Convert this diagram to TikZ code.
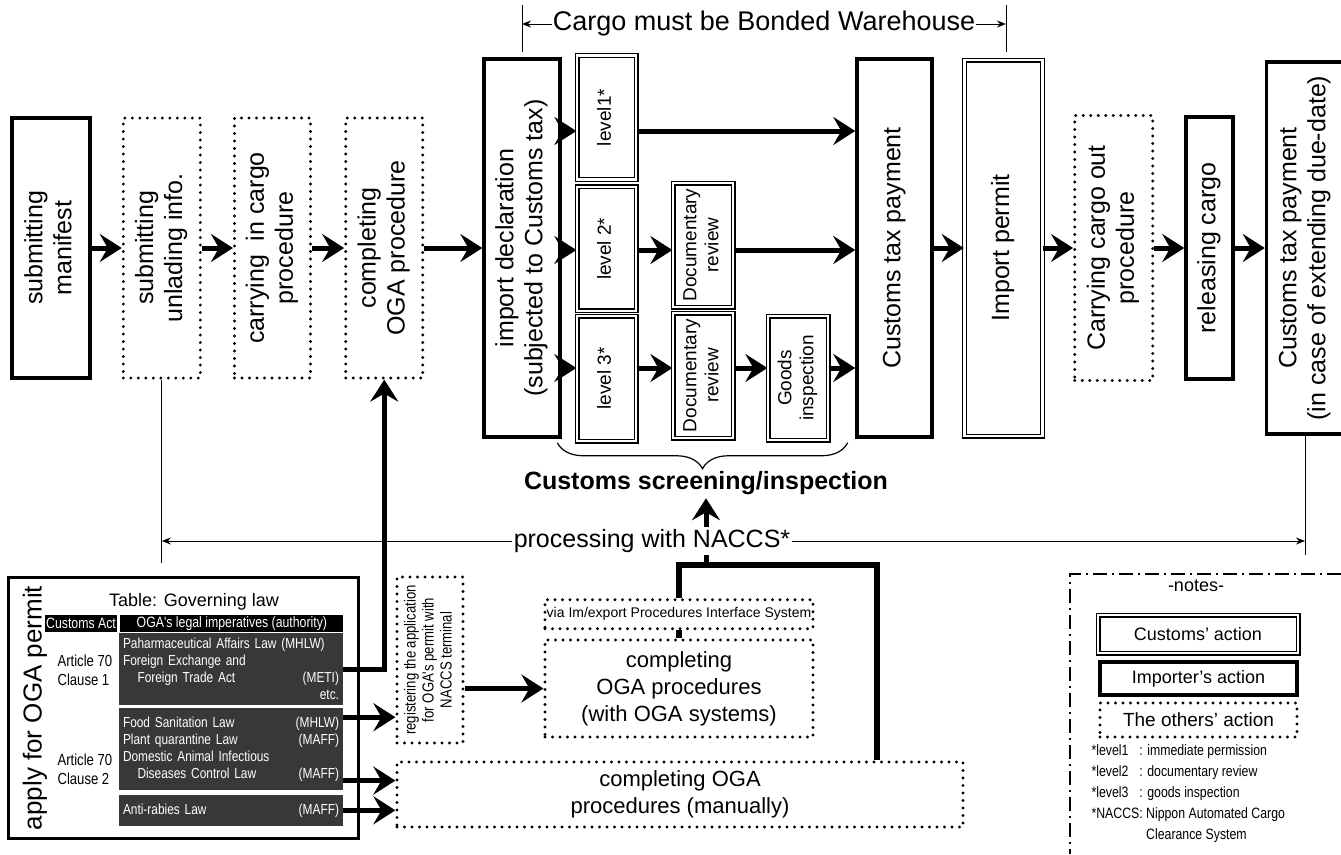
\documentclass[tikz,border=0pt]{standalone}
\usepackage{graphicx}
\usepackage{fontspec}
\setmainfont{Liberation Sans}
\newfontfamily\narrowfont[FakeStretch=0.82]{Liberation Sans}
\usetikzlibrary{arrows.meta, positioning, calc, decorations.pathreplacing}
\newcommand{\vlabel}[1]{\rotatebox{90}{\begin{tabular}{@{}c@{}}#1\end{tabular}}}
\newcommand{\fsz}[2]{\fontsize{#1}{#2}\selectfont}
\tikzset{
  importer/.style={rectangle, draw=black, line width=3.5pt, inner sep=1pt, font=\fsz{25}{29}},
  customs/.style={rectangle, draw=black, line width=1.3pt, double=white, double distance=2.4pt, inner sep=1pt, font=\fsz{25}{29}},
  others/.style={rectangle, draw=black, line width=3.2pt, dash pattern=on 0pt off 7.5pt, line cap=round, inner sep=1pt, font=\fsz{25}{29}},
  levelbox/.style={customs, minimum width=59pt, font=\fsz{19}{22}},
  headcell/.style={rectangle, fill=black, text=white, minimum height=17pt, inner sep=0pt, font=\narrowfont\fsz{15}{16}},
  lawcell/.style={rectangle, fill=black!78, text=white, text width=216pt, align=left, inner xsep=4pt, inner ysep=2pt, font=\narrowfont\fsz{14.5}{17}},
  flow/.style={line width=5pt, -{Stealth[length=22pt, width=28pt, inset=8pt]}},
  bar/.style={line width=6pt},
  thinarrow/.style={line width=1pt, {Stealth[length=9pt, width=7pt]}-{Stealth[length=9pt, width=7pt]}},
  thinline/.style={line width=1pt},
  bracket/.style={decorate, decoration={brace, mirror, amplitude=26pt}, line width=1.2pt},
  notesframe/.style={line width=2pt, dash pattern=on 14pt off 5pt on 2pt off 5pt}
}

\begin{document}
\begin{tikzpicture}[x=1pt, y=-1pt, node distance=30pt]
\useasboundingbox (0,0) rectangle (1341,854);
\fill[white] (0,0) rectangle (1341,854);

% import flow
\node[importer, minimum width=78pt, minimum height=260pt] (manifest) at (51,248) {\vlabel{submitting\\manifest}};
\node[others, minimum width=77pt, minimum height=260pt, right=of manifest] (unlading) {\vlabel{submitting\\unlading info.}};
\node[others, minimum width=76pt, minimum height=260pt, right=31pt of unlading] (carryin) {\vlabel{carrying\ \ in cargo\\procedure}};
\node[others, minimum width=77pt, minimum height=260pt, right=32pt of carryin] (oga) {\vlabel{completing\\OGA procedure}};
\node[importer, minimum width=76pt, minimum height=378pt, right=58pt of oga] (imp) {\vlabel{import declaration\\(subjected to Customs tax)}};

\node[levelbox, minimum height=124pt] (lv1) at (606.5,117.5) {\vlabel{level1*}};
\node[levelbox, minimum height=124pt, below=6pt of lv1] (lv2) {\vlabel{level 2*}};
\node[levelbox, minimum height=125pt, below=4pt of lv2] (lv3) {\vlabel{level 3*}};
\node[customs, minimum width=60pt, minimum height=124pt, font=\fsz{19}{22}] (doc2) at (703,245) {\vlabel{Documentary\\review}};
\node[customs, minimum width=60pt, minimum height=125pt, font=\fsz{19}{22}] (doc3) at (703,375.5) {\vlabel{Documentary\\review}};
\node[customs, minimum width=60pt, minimum height=124pt, font=\fsz{19}{22}] (goods) at (798,378) {\vlabel{Goods\\inspection}};

\node[importer, minimum width=75pt, minimum height=378pt] (tax) at (894.5,248) {\vlabel{Customs tax payment}};
\node[customs, minimum width=78pt, minimum height=376pt, right=of tax] (permit) {\vlabel{Import permit}};
\node[others, minimum width=78pt, minimum height=265pt, right=of permit] (carryout) {\vlabel{Carrying cargo out\\procedure}};
\node[importer, minimum width=47pt, minimum height=262pt, right=of carryout] (release) {\vlabel{releasing cargo}};
\node[importer, minimum width=77pt, minimum height=372pt, right=of release] (last) {\vlabel{Customs tax payment\\(in case of extending due-date)}};

\coordinate (row1) at (0,131);
\coordinate (row2) at (0,250);
\coordinate (row3) at (0,368);

\draw[flow] (manifest) -- (unlading);
\draw[flow] (unlading) -- (carryin);
\draw[flow] (carryin) -- (oga);
\draw[flow] (oga) -- (imp);
\draw[flow] (imp.east |- row1) -- (lv1.west |- row1);
\draw[flow] (imp.east |- row2) -- (lv2.west |- row2);
\draw[flow] (imp.east |- row3) -- (lv3.west |- row3);
\draw[flow] (lv1.east |- row1) -- (tax.west |- row1);
\draw[flow] (lv2.east |- row2) -- (doc2.west |- row2);
\draw[flow] (doc2.east |- row2) -- (tax.west |- row2);
\draw[flow] (lv3.east |- row3) -- (doc3.west |- row3);
\draw[flow] (doc3.east |- row3) -- (goods.west |- row3);
\draw[flow] (goods.east |- row3) -- (tax.west |- row3);
\draw[flow] (tax) -- (permit);
\draw[flow] (permit) -- (carryout);
\draw[flow] (carryout) -- (release);
\draw[flow] (release) -- (last);

% bonded warehouse range
\coordinate (bwl) at (522,24);
\coordinate (bwr) at (1006,24);
\draw[thinline] ([yshift=19pt]bwl) -- ([yshift=-28pt]bwl);
\draw[thinline] ([yshift=19pt]bwr) -- ([yshift=-28pt]bwr);
\draw[thinarrow] (bwl) -- (bwr);
\node[fill=white, inner sep=1pt, font=\fsz{27}{29}] (bonded) at ($(bwl)!0.5!(bwr)$) {Cargo must be Bonded Warehouse};

% screening
\draw[bracket] ($(lv3.south west)+(-19,1)$) -- ($(lv3.south west -| goods.east)+(19,1)$);
\node[font=\bfseries\fsz{25}{28}] (screen) at (706,483) {Customs screening/inspection};

% OGA permit table
\node[importer, line width=3pt, minimum width=350pt, minimum height=261pt] (apply) at (183,707.5) {};
\node[rotate=90, font=\fsz{26}{28}] (applylbl) at (35,708) {apply for OGA permit};
\node[font=\fsz{18}{20}] (tabtitle) at (194,602) {Table: Governing law};
\node[headcell, minimum width=72pt] (hcust) at (81,623.5) {Customs Act};
\node[headcell, minimum width=223pt, right=3pt of hcust] (hlaw) {OGA's legal imperatives (authority)};
\node[lawcell, minimum height=72pt] (law1) at (231,669) {Paharmaceutical Affairs Law (MHLW)\\Foreign Exchange and\\\quad Foreign Trade Act\hfill(METI)\\\hfill etc.};
\node[lawcell, minimum height=82pt, below=3pt of law1] (law2) {Food Sanitation Law\hfill(MHLW)\\Plant quarantine Law\hfill(MAFF)\\Domestic Animal Infectious\\\quad Diseases Control Law\hfill(MAFF)};
\node[lawcell, minimum height=31pt, below=4pt of law2] (law3) {Anti-rabies Law\hfill(MAFF)};
\node[anchor=west, align=left, font=\narrowfont\fsz{16}{19}] (art1) at (54,670) {Article 70\\Clause 1};
\node[anchor=west, align=left, font=\narrowfont\fsz{16}{19}] (art2) at (54,769) {Article 70\\Clause 2};

% OGA procedures
\node[others, minimum width=66pt, minimum height=166pt, font=\narrowfont\fsz{16}{18}] (reg) at (430,660) {\vlabel{registering the application\\for OGA's permit with\\NACCS terminal}};
\node[others, minimum width=268pt, minimum height=97pt, align=center, font=\fsz{22}{27}] (systems) at (679,688.5) {completing\\OGA procedures\\(with OGA systems)};
\node[others, minimum width=268pt, minimum height=29pt, font=\fsz{14}{16}, above=8pt of systems] (via) {via Im/export Procedures Interface System};
\node[others, minimum width=566pt, minimum height=65pt, align=center, font=\fsz{22}{27}] (manual) at (680,794.5) {completing OGA\\procedures (manually)};

\coordinate (a2) at ($(law2.north east)+(0,9)$);
\coordinate (b2) at ($(law2.south east)+(0,-10)$);
\draw[flow] (law1.east) -| (oga.south);
\draw[flow] (a2) -- (a2 -| reg.west);
\draw[flow] (b2) -- (b2 -| manual.west);
\draw[flow] (law3.east) -- (law3.east -| manual.west);
\draw[flow] (reg.east |- systems.west) -- (systems.west);

\coordinate (join) at (877,565);
\draw[bar] (via) -- (systems);
\draw[bar] (via.north) |- (join) -- (join |- manual.north);
\draw[flow] (screen.south |- join) -- (screen.south);

% NACCS range
\coordinate (nrow) at (0,541);
\draw[thinline] (unlading.south) -- ($(unlading.south |- nrow)+(0,22)$);
\draw[thinline] (last.south) -- ($(last.south |- nrow)+(0,14)$);
\draw[thinarrow] (unlading.south |- nrow) -- (last.south |- nrow);
\node[fill=white, inner sep=2pt, font=\fsz{25}{27}] (naccs) at (652,541) {processing with NACCS*};

% notes
\draw[notesframe] (1341,574) -- (1070,574) -- (1070,854);
\node[font=\fsz{18}{20}] (notes) at (1196,586) {-notes-};
\node[customs, minimum width=200pt, minimum height=38pt, font=\fsz{18}{20}] (lcust) at (1198,634) {Customs' action};
\node[importer, minimum width=197pt, minimum height=33pt, font=\fsz{18}{20}] (limp) at (1198.5,678.5) {Importer's action};
\node[others, minimum width=197pt, minimum height=34pt, font=\fsz{19}{21}] (loth) at (1198.5,720) {The others' action};
\node[anchor=north west, align=left, font=\narrowfont\fsz{15}{21}] (legend) at (1088,741) {*level1\enspace\ : immediate permission\\*level2\enspace\ : documentary review\\*level3\enspace\ : goods inspection\\*NACCS: Nippon Automated Cargo\\\phantom{*NACCS: }Clearance System};
\end{tikzpicture}
\end{document}
